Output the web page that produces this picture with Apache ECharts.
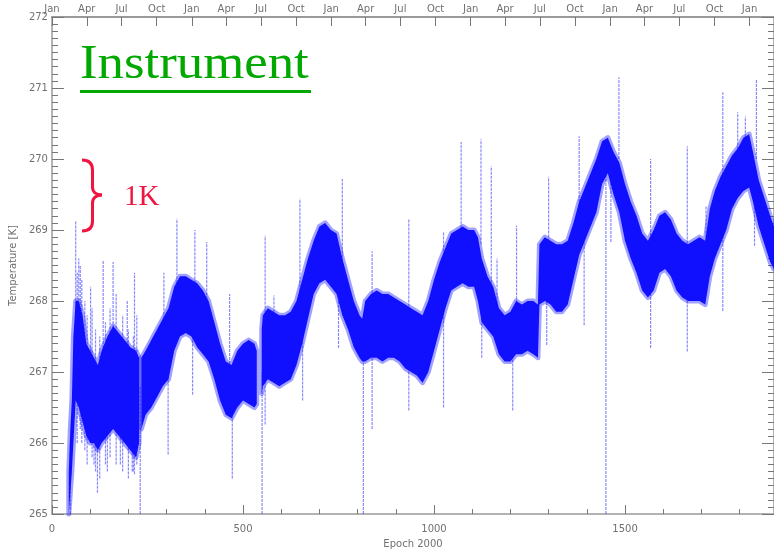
<!DOCTYPE html>
<html><head><meta charset="utf-8">
<script src="https://cdn.jsdelivr.net/npm/echarts@6/dist/echarts.min.js"></script>
<style>html,body{margin:0;padding:0;background:#fff}#c{width:774px;height:554px}</style>
</head><body><div id="c"></div>
<script>
// Dense band of the instrument temperature (days since 2000-01-01), upper / lower edge, null = gap
const bandDay = [44,48,52,56,62,70,80,90,100,110,120,130,145,160,175,190,205,220,228,null,
  234,245,260,275,290,305,320,335,350,365,380,395,410,425,440,455,470,485,500,515,530,536,null,
  549,552,565,580,595,610,625,640,655,670,685,700,715,730,745,760,775,790,805,812,820,835,850,865,880,895,910,925,940,955,970,985,
  1000,1015,1030,1045,1060,1075,1090,1105,1115,1125,1140,1155,1170,1185,1200,1215,1230,1245,1260,1272,1276,1290,1305,1320,1335,1350,
  1365,1380,1395,1410,1425,1440,1455,1470,1485,1500,1515,1530,1545,1560,1575,1590,1605,1620,1635,1650,1665,1680,1695,1710,
  1722,1735,1750,1765,1780,1795,1810,1825,1835,1850,1865,1880,1890];
const bandHigh = [265.6,266.2,266.6,267.5,268.0,268.0,267.8,267.4,267.3,267.2,267.1,267.3,267.5,267.65,267.55,267.45,267.35,267.3,267.2,null,
  267.2,267.3,267.45,267.6,267.75,267.9,268.2,268.35,268.35,268.3,268.25,268.15,268.0,267.7,267.4,267.15,267.1,267.3,267.4,267.45,267.4,267.3,null,
  267.6,267.8,267.9,267.85,267.8,267.8,267.85,268.0,268.3,268.6,268.85,269.05,269.1,269.0,268.95,268.6,268.3,268.0,267.8,267.75,268.0,268.1,268.15,268.1,268.1,268.05,268.0,267.95,267.9,267.85,267.8,268.0,
  268.3,268.55,268.75,268.95,269.0,269.05,269.0,269.0,268.9,268.6,268.35,268.2,267.9,267.8,267.85,268.0,267.95,268.0,268.0,267.95,268.8,268.9,268.85,268.8,268.8,268.85,
  269.1,269.4,269.6,269.8,270.0,270.25,270.3,270.1,269.95,269.65,269.4,269.2,268.95,268.85,269.0,269.2,269.25,269.15,268.95,268.85,268.8,268.85,268.9,268.85,
  269.3,269.55,269.75,269.9,270.05,270.15,270.3,270.35,270.1,269.7,269.45,269.2,269.05];
const bandLow = [265.0,265.3,265.6,266.0,266.6,266.5,266.3,266.1,266.0,266.0,265.9,266.0,266.1,266.2,266.1,266.0,265.9,265.8,266.0,null,
  266.2,266.4,266.5,266.65,266.8,266.9,267.3,267.5,267.55,267.5,267.35,267.25,267.15,266.9,266.6,266.4,266.35,266.5,266.6,266.55,266.5,266.55,null,
  266.7,266.8,266.9,266.85,266.8,266.85,266.9,267.1,267.4,267.75,268.1,268.25,268.3,268.2,268.1,267.8,267.6,267.35,267.2,267.15,267.15,267.2,267.2,267.15,267.2,267.2,267.15,267.05,267.0,266.95,266.85,267.0,
  267.3,267.6,267.9,268.15,268.2,268.25,268.2,268.2,268.0,267.7,267.6,267.5,267.25,267.15,267.15,267.25,267.25,267.3,267.25,267.2,267.95,268.0,267.95,267.85,267.85,267.95,
  268.3,268.65,268.85,269.05,269.25,269.65,269.8,269.5,269.25,268.85,268.6,268.4,268.15,268.05,268.15,268.4,268.45,268.35,268.15,268.05,268.0,268.0,268.0,267.95,
  268.35,268.6,268.8,269.0,269.3,269.45,269.55,269.6,269.4,269.05,268.8,268.55,268.45];

// Isolated outliers (vertical streaks): day, lowest value, highest value
const spikeDay  = [48,62,66,70,74,78,86,92,101,105,110,114,119,125,134,140,145,152,160,168,179,185,197,200,210,213,216,222,231,
  293,304,327,368,374,405,465,472,550,558,581,649,656,750,760,815,838,934,1025,1071,1123,1125,1150,1165,1206,1216,1295,1300,
  1380,1393,1450,1463,1484,1567,1663,1712,1756,1795,1815,1839,1844];
const spikeLow  = [265.0,267.5,266.0,267.5,266.2,266.0,265.9,265.7,266.5,265.8,265.7,265.6,265.3,265.5,267.0,265.7,265.6,265.8,267.0,265.7,265.7,265.6,267.0,265.5,265.6,265.6,265.56,265.7,265.0,
  267.3,265.84,267.8,266.68,267.8,267.8,267.0,265.5,265.0,266.26,267.5,267.8,266.6,267.34,268.5,265.0,266.2,266.46,266.5,268.8,268.8,267.2,268.2,267.8,266.46,267.8,267.38,268.5,
  269.0,267.66,265.0,268.83,270.0,267.34,267.29,268.5,267.86,269.8,269.8,268.78,270.0];
const spikeHigh = [266.0,269.13,268.4,268.6,268.5,268.3,268.0,267.8,268.2,267.9,266.8,267.6,266.5,267.5,268.57,267.7,266.5,267.9,268.55,268.1,266.6,267.8,268.0,267.6,266.5,267.5,268.4,267.8,266.8,
  268.4,267.0,269.16,267.6,269.0,268.83,268.1,266.5,267.0,268.92,268.08,269.44,267.5,268.3,269.72,267.2,268.7,269.16,268.97,270.24,270.28,268.0,269.9,268.6,267.3,269.06,268.1,269.75,
  270.32,268.9,270.0,269.7,271.15,270.0,270.18,269.34,270.94,270.66,270.6,269.5,271.12];

// Top calendar axis
const monthDays = [0,91,182,274,366,456,547,639,731,821,912,1004,1096,1186,1277,1369,1461,1551,1642,1734,1826];
const monthLabels = ['Jan','Apr','Jul','Oct','Jan','Apr','Jul','Oct','Jan','Apr','Jul','Oct','Jan','Apr','Jul','Oct','Jan','Apr','Jul','Oct','Jan'];

// split band into continuous segments
const segments = [];
let cur = [];
for (let i = 0; i < bandDay.length; i++) {
  if (bandDay[i] === null) { if (cur.length) segments.push(cur); cur = []; continue; }
  cur.push([bandDay[i], bandHigh[i], bandLow[i]]);
}
if (cur.length) segments.push(cur);

const segData = segments.map((s, k) => [s[0][0], s[s.length - 1][0], Math.min(...s.map(p => p[2])), Math.max(...s.map(p => p[1])), k]);
const spikeData = spikeDay.map((d, i) => [d, spikeLow[i], spikeHigh[i]]);

const axisColor = '#9a9a9a';
const tickColor = '#777';
const labelColor = '#707070';
const font = 'DejaVu Sans';

const chart = echarts.init(document.getElementById('c'), null, {renderer: 'canvas'});
chart.setOption({
  animation: false,
  backgroundColor: '#fff',
  grid: {left: 49, right: -1, top: 17, bottom: 37, containLabel: false},
  xAxis: [{
    type: 'value', position: 'bottom', min: 0, max: 1890, interval: 500,
    axisLine: {show: true, onZero: false, lineStyle: {color: axisColor, width: 1.5}},
    axisTick: {show: true, inside: true, length: 9, lineStyle: {color: tickColor}},
    minorTick: {show: true, splitNumber: 5, length: 5, lineStyle: {color: tickColor}},
    splitLine: {show: false}, minorSplitLine: {show: false},
    axisLabel: {color: labelColor, fontSize: 10, fontFamily: font, margin: 10, showMaxLabel: false, formatter: v => String(v)},
    name: 'Epoch 2000', nameLocation: 'middle', nameGap: 22,
    nameTextStyle: {color: labelColor, fontSize: 10, fontFamily: font}
  }, {
    type: 'value', position: 'top', min: 0, max: 1890,
    axisLine: {show: true, onZero: false, lineStyle: {color: axisColor, width: 2}},
    axisTick: {show: true, inside: true, length: 9, customValues: monthDays, lineStyle: {color: tickColor}},
    axisLabel: {show: true, customValues: monthDays, color: labelColor, fontSize: 10, fontFamily: font, margin: 3,
      formatter: v => monthLabels[monthDays.indexOf(v)] || ''},
    splitLine: {show: false}
  }],
  yAxis: [{
    type: 'value', position: 'left', min: 265, max: 272, interval: 1,
    axisLine: {show: true, onZero: false, lineStyle: {color: axisColor, width: 1.5}},
    axisTick: {show: true, inside: true, length: 12, lineStyle: {color: tickColor}},
    minorTick: {show: true, splitNumber: 10, length: 6, lineStyle: {color: tickColor}},
    splitLine: {show: false}, minorSplitLine: {show: false},
    axisLabel: {color: labelColor, fontSize: 10, fontFamily: font, margin: 4},
    name: 'Temperature [K]', nameLocation: 'middle', nameGap: 28, nameRotate: 90,
    nameTextStyle: {color: labelColor, fontSize: 10, fontFamily: font}
  }, {
    type: 'value', position: 'right', min: 265, max: 272, interval: 1,
    axisLine: {show: true, onZero: false, lineStyle: {color: axisColor, width: 1.5}},
    axisTick: {show: true, inside: true, length: 12, lineStyle: {color: tickColor}},
    minorTick: {show: true, splitNumber: 10, length: 6, lineStyle: {color: tickColor}},
    splitLine: {show: false}, axisLabel: {show: false}
  }],
  series: [{
    type: 'custom', xAxisIndex: 0, yAxisIndex: 0, z: 2,
    data: spikeData, encode: {x: 0, y: [1, 2]},
    renderItem: function (params, api) {
      const a = api.coord([api.value(0), api.value(1)]);
      const b = api.coord([api.value(0), api.value(2)]);
      return {type: 'line', shape: {x1: a[0], y1: a[1], x2: b[0], y2: b[1]},
        style: {stroke: 'rgba(40,40,255,0.55)', lineWidth: 1.2, lineDash: [3, 1]}};
    }
  }, {
    type: 'custom', xAxisIndex: 0, yAxisIndex: 0, z: 3,
    data: segData, encode: {x: [0, 1], y: [2, 3]},
    renderItem: function (params, api) {
      const seg = segments[params.dataIndex];
      const top = seg.map(p => api.coord([p[0], p[1]]));
      const bot = seg.map(p => api.coord([p[0], p[2]])).reverse();
      const pts = top.concat(bot);
      return {type: 'group', children: [
        {type: 'polygon', shape: {points: pts}, z2: 1,
          style: {fill: null, stroke: 'rgba(20,20,255,0.4)', lineWidth: 5, lineJoin: 'round'}},
        {type: 'polygon', shape: {points: pts}, z2: 2,
          style: {fill: '#1010ff', stroke: null}}
      ]};
    }
  }],
  graphic: [
    {type: 'text', left: 80, top: 41, z: 10, scaleX: 1.1,
      style: {text: 'Instrument', font: '48px "Liberation Serif"', fill: '#00a800'}},
    {type: 'rect', z: 10, shape: {x: 80, y: 90, width: 231, height: 3}, style: {fill: '#00a800'}},
    {type: 'bezierCurve', z: 10, shape: {x1: 82, y1: 160, cpx1: 89, cpy1: 160, cpx2: 92.5, cpy2: 163, x2: 92.5, y2: 170},
      style: {stroke: '#f01440', lineWidth: 3, fill: null}},
    {type: 'line', z: 10, shape: {x1: 92.5, y1: 170, x2: 92.5, y2: 187}, style: {stroke: '#f01440', lineWidth: 3}},
    {type: 'bezierCurve', z: 10, shape: {x1: 92.5, y1: 187, cpx1: 92.5, cpy1: 192, cpx2: 96, cpy2: 195, x2: 102, y2: 195},
      style: {stroke: '#f01440', lineWidth: 3, fill: null}},
    {type: 'bezierCurve', z: 10, shape: {x1: 102, y1: 195, cpx1: 96, cpy1: 195, cpx2: 92.5, cpy2: 198, x2: 92.5, y2: 203},
      style: {stroke: '#f01440', lineWidth: 3, fill: null}},
    {type: 'line', z: 10, shape: {x1: 92.5, y1: 203, x2: 92.5, y2: 221}, style: {stroke: '#f01440', lineWidth: 3}},
    {type: 'bezierCurve', z: 10, shape: {x1: 92.5, y1: 221, cpx1: 92.5, cpy1: 228, cpx2: 89, cpy2: 231, x2: 82, y2: 231},
      style: {stroke: '#f01440', lineWidth: 3, fill: null}},
    {type: 'text', left: 124, top: 183, z: 10,
      style: {text: '1K', font: '29px "Liberation Serif"', fill: '#f01440'}}
  ]
});
</script></body></html>
